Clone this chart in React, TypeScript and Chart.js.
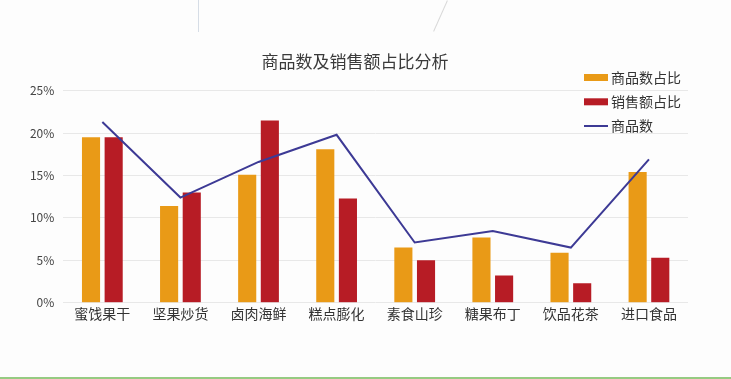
import React, { useEffect, useRef } from "react";
import { Chart, registerables } from "chart.js";

Chart.register(...registerables);

const categories = ["蜜饯果干", "坚果炒货", "卤肉海鲜", "糕点膨化", "素食山珍", "糖果布丁", "饮品花茶", "进口食品"];
const countShare = [19.5, 11.4, 15.1, 18.1, 6.5, 7.7, 5.9, 15.4];
const salesShare = [19.5, 13.0, 21.5, 12.3, 5.0, 3.2, 2.3, 5.3];
const productCount = [21.3, 12.4, 16.6, 19.8, 7.1, 8.45, 6.5, 16.9];
const yTicks = [0, 5, 10, 15, 20, 25];
const titleText = "商品数及销售额占比分析";
const seriesNames = ["商品数占比", "销售额占比", "商品数"];

const ORANGE = "#E99A17";
const RED = "#B71C25";
const NAVY = "#3D3A95";
const FONT = "'Noto Sans CJK SC', 'Noto Sans', sans-serif";

const overlayPlugin = {
  id: "overlay",
  afterDraw(chart: any) {
    const ctx = chart.ctx;
    ctx.save();
    // title
    ctx.font = `17px ${FONT}`;
    ctx.fillStyle = "#3a3a3a";
    ctx.textAlign = "center";
    ctx.textBaseline = "middle";
    ctx.fillText(titleText, 355, 62);
    // legend
    const x0 = 584;
    const rows = [77.5, 101.8, 126];
    ctx.font = `14px ${FONT}`;
    ctx.textAlign = "left";
    const colors = [ORANGE, RED, NAVY];
    rows.forEach((y, i) => {
      if (i < 2) {
        ctx.fillStyle = colors[i];
        ctx.fillRect(x0, y - 3.5, 24, 7);
      } else {
        ctx.strokeStyle = colors[i];
        ctx.lineWidth = 2;
        ctx.beginPath();
        ctx.moveTo(x0, y);
        ctx.lineTo(x0 + 24, y);
        ctx.stroke();
      }
      ctx.fillStyle = "#333";
      ctx.fillText(seriesNames[i], x0 + 27, y);
    });
    ctx.restore();
  },
};

export default function App() {
  const ref = useRef<HTMLCanvasElement>(null);
  useEffect(() => {
    if (!ref.current) return;
    const chart = new Chart(ref.current, {
      type: "bar",
      data: {
        labels: categories,
        datasets: [
          {
            type: "line",
            label: seriesNames[2],
            data: productCount,
            borderColor: NAVY,
            backgroundColor: NAVY,
            borderWidth: 2,
            pointRadius: 0,
            tension: 0,
            order: 0,
          } as any,
          {
            label: seriesNames[0],
            data: countShare,
            backgroundColor: ORANGE,
            categoryPercentage: 0.58,
            barPercentage: 0.8,
            order: 1,
          },
          {
            label: seriesNames[1],
            data: salesShare,
            backgroundColor: RED,
            categoryPercentage: 0.58,
            barPercentage: 0.8,
            order: 1,
          },
        ],
      },
      plugins: [overlayPlugin],
      options: {
        animation: false,
        responsive: false,
        maintainAspectRatio: false,
        layout: { padding: { top: 90.7, right: 43, left: 0, bottom: 0 } },
        plugins: {
          legend: { display: false },
          title: { display: false },
          tooltip: { enabled: false },
        },
        scales: {
          x: {
            grid: { display: false, drawTicks: false },
            border: { display: false },
            ticks: {
              padding: 3,
              color: "#333",
              font: { size: 14, family: FONT },
              maxRotation: 0,
              autoSkip: false,
            },
            afterFit: (s: any) => {
              s.height = 379 - 302.7;
            },
          },
          y: {
            min: 0,
            max: 25,
            afterBuildTicks: (s: any) => {
              s.ticks = yTicks.map((v) => ({ value: v }));
            },
            grid: { color: "#e8e8e8", drawTicks: false, lineWidth: 1 },
            border: { display: false },
            ticks: {
              padding: 9,
              color: "#444",
              font: { size: 12, family: FONT },
              callback: (v: any) => `${v}%`,
            },
            afterFit: (s: any) => {
              s.width = 63.3;
            },
          },
        },
      },
    });
    return () => chart.destroy();
  }, []);

  return (
    <div
      style={{
        position: "fixed",
        left: 0,
        top: 0,
        width: 731,
        height: 379,
        background: "#fdfdfd",
        overflow: "hidden",
      }}
    >
      <div style={{ position: "absolute", left: 198, top: 0, width: 1, height: 32, background: "#d6dde6" }} />
      <div
        style={{
          position: "absolute",
          left: 440,
          top: -1,
          width: 1,
          height: 34,
          background: "#d9d9d9",
          transform: "rotate(24deg)",
          transformOrigin: "center",
        }}
      />
      <div style={{ position: "absolute", left: 0, top: 377, width: 731, height: 2, background: "#96cb82" }} />
      <canvas ref={ref} width={731} height={379} style={{ position: "absolute", left: 0, top: 0, width: 731, height: 379 }} />
    </div>
  );
}
